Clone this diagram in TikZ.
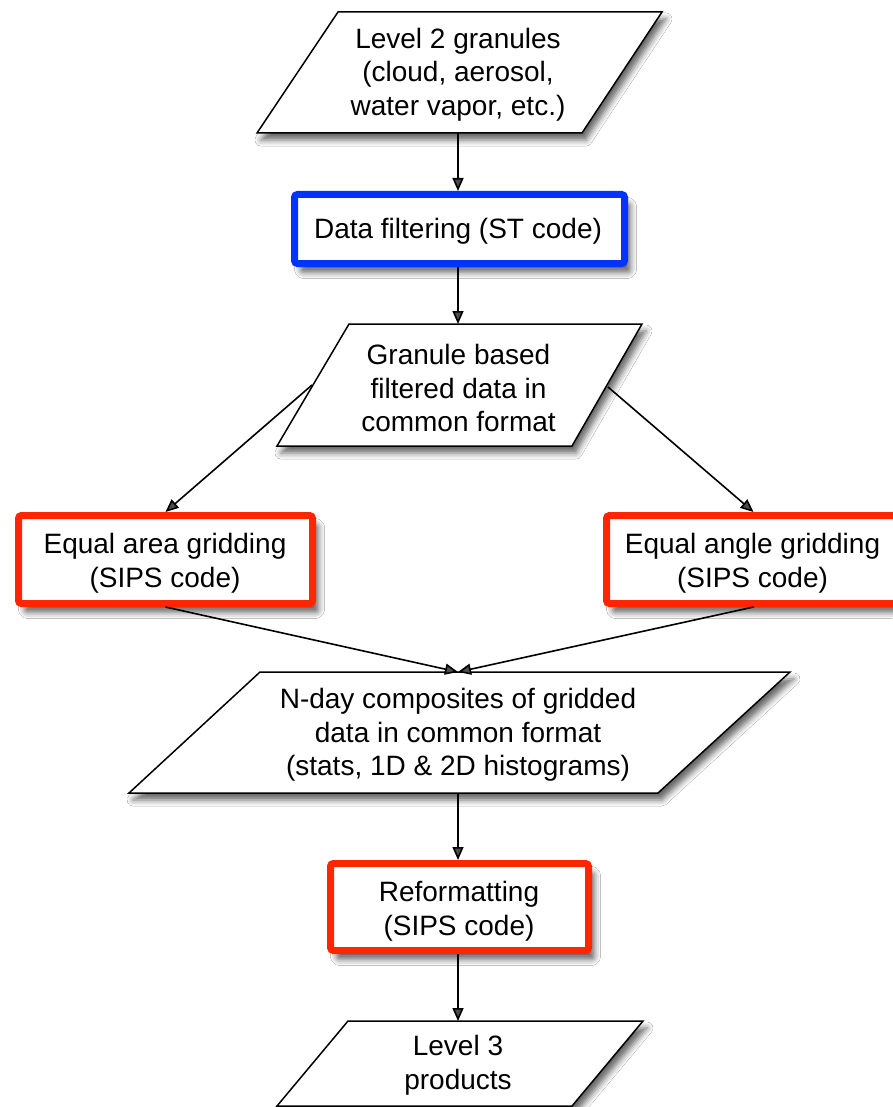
\documentclass[tikz,border=0pt]{standalone}
\usepackage{fontspec}
\setmainfont{Liberation Sans}
\usetikzlibrary{arrows.meta,shadows.blur}
\definecolor{gblue}{HTML}{0433FF}
\definecolor{gred}{HTML}{FF2600}
\begin{document}
\begin{tikzpicture}[x=1pt,y=-1pt,
  pshd/.style={blur shadow={shadow xshift=4pt,shadow yshift=-7pt,shadow blur radius=6pt,shadow opacity=60}},
  bshd/.style={blur shadow={shadow xshift=6pt,shadow yshift=-9pt,shadow blur radius=6pt,shadow opacity=60}},
  databox/.style={draw=black,line width=1.5pt,fill=white,line join=miter,pshd},
  procbox/.style={draw,line width=7pt,fill=white,rounded corners=3pt,bshd,inner sep=0pt},
  txt/.style={font=\fontsize{28}{33.6}\selectfont,align=center,inner sep=0pt},
  conn/.style={line width=1.6pt,-{Triangle[length=13pt,width=11pt]}}
]
\fill[white] (0,0) rectangle (892,1107);
\useasboundingbox (0,0) rectangle (892,1107);

% data (parallelogram) shapes
\draw[databox] (338,12) -- (662,12) -- (582,133) -- (257,133) -- cycle;
\draw[databox] (349,324) -- (642,324) -- (572,446) -- (277,446) -- cycle;
\draw[databox] (260,672) -- (790,672) -- (658,793) -- (129,793) -- cycle;
\draw[databox] (348,1021) -- (643,1021) -- (572,1106) -- (277,1106) -- cycle;

% process boxes
\node[procbox,draw=gblue,minimum width=330pt,minimum height=69pt] (filter) at (459.5,229) {};
\node[procbox,draw=gred,minimum width=294pt,minimum height=88pt] (area) at (165.5,559.5) {};
\node[procbox,draw=gred,minimum width=294pt,minimum height=88pt] (angle) at (753.5,559.5) {};
\node[procbox,draw=gred,minimum width=258pt,minimum height=87pt] (reform) at (459.5,907) {};

% texts
\node[txt] (l2t) at (458,74.5) {Level 2 granules\\(cloud, aerosol,\\water vapor, etc.)};
\node[txt] (filtert) at (458,231.5) {Data filtering (ST code)};
\node[txt] (grt) at (458.5,388) {Granule based\\filtered data in\\common format};
\node[txt] (areat) at (165,563) {Equal area gridding\\(SIPS code)};
\node[txt] (anglet) at (752.5,563) {Equal angle gridding\\(SIPS code)};
\node[txt] (ndt) at (458,735) {N-day composites of gridded\\data in common format\\(stats, 1D \& 2D histograms)};
\node[txt] (reformt) at (459,911) {Reformatting\\(SIPS code)};
\node[txt] (l3t) at (458,1065.5) {Level 3\\products};

% connector end points on the data shapes
\coordinate (l2s) at (458,133);
\coordinate (grn) at (458,324);
\coordinate (grw) at (312,385);
\coordinate (gre) at (608,387);
\coordinate (ndn) at (458,672);
\coordinate (nds) at (458,793);
\coordinate (l3n) at (458,1021);

% connectors
\draw[conn] (l2s) -- (l2s |- filter.north);
\draw[conn] (filter.south -| grn) -- (grn);
\draw[conn] (grw) -- (area.north);
\draw[conn] (gre) -- (angle.north);
\draw[conn] (area.south) -- (ndn);
\draw[conn] (angle.south) -- (ndn);
\draw[conn] (nds) -- (nds |- reform.north);
\draw[conn] (reform.south -| l3n) -- (l3n);
\end{tikzpicture}
\end{document}
